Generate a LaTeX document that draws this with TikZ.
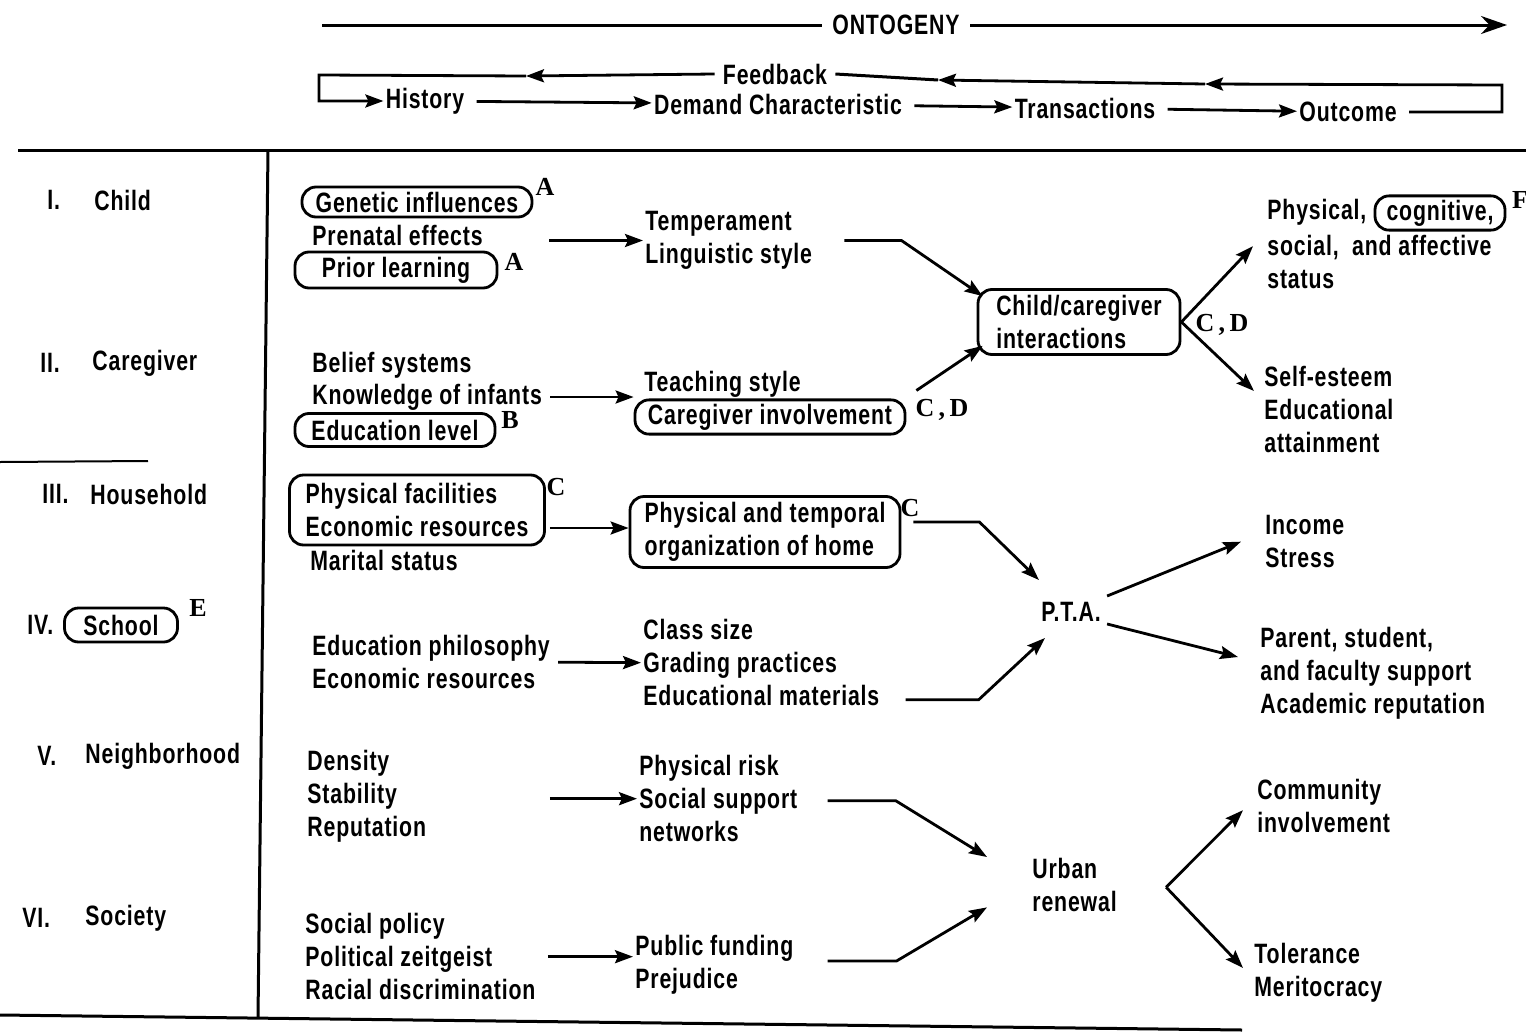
\documentclass[tikz,border=0pt]{standalone}
\usepackage{fontspec}
\setmainfont{Liberation Sans}[UprightFont={* Bold}, FakeStretch=0.76, LetterSpace=3]
\newfontfamily\letterfont{Liberation Serif}
\usetikzlibrary{arrows.meta, positioning, calc}

\newcommand{\dfont}{\fontsize{14}{16.5}\selectfont}
\newcommand{\lfont}{\letterfont\bfseries\fontsize{13}{15}\selectfont}

\begin{document}
\begin{tikzpicture}[
  x=0.5pt, y=-0.5pt,
  txt/.style={font=\dfont, inner sep=1pt, anchor=west, align=left},
  grp/.style={txt, anchor=north west},
  bx/.style={font=\dfont, draw, line width=1.4pt, rounded corners=7pt, inner sep=2pt, align=left},
  lt/.style={font=\lfont, inner sep=0pt},
  arr/.style={-{Stealth[length=9pt, width=6.5pt, inset=1.5pt]}, line width=1.4pt},
  rule/.style={line width=1.5pt}
]
\useasboundingbox (0,0) rectangle (1526,1033);

% frame lines
\draw[rule] (18,150) -- (1526,150);
\draw[rule] (268,150) -- (258,1018);
\draw[rule] (0,1015) -- (1242,1030);
\draw[line width=1pt] (0,462) -- (148,461);

% ontogeny
\node[txt, anchor=center, inner xsep=5pt] (ont) at (896,25) {ONTOGENY};
\coordinate (ontL) at (322,25);
\coordinate (ontR) at (1507,25);
\draw[rule] (ontL) -- (ont.west);
\draw[rule, -{Stealth[length=13pt, width=9pt]}] (ont.east) -- (ontR);

% sequence and feedback
\node[txt, anchor=center] (hist) at (425,101) {History};
\node[txt, anchor=center] (dem) at (778,104) {Demand Characteristic};
\node[txt, anchor=center] (tra) at (1085,108) {Transactions};
\node[txt, anchor=center] (outc) at (1348,112) {Outcome};
\draw[arr, shorten <=5pt] (hist) -- (dem);
\draw[arr, shorten <=5pt] (dem) -- (tra);
\draw[arr, shorten <=5pt] (tra) -- (outc);

\node[txt, anchor=center, inner xsep=4pt] (fb) at (775,74) {Feedback};
\coordinate (fbR) at (1502,85);
\coordinate (fb1) at (1205,84);
\coordinate (fb2) at (938,80);
\coordinate (fb3) at (526,76);
\coordinate (fbL) at (319,75);
\draw[arr, shorten <=5pt] (outc.east) -- (outc.east -| fbR) -- (fbR) -- (fb1);
\draw[arr] (fb1) -- (fb2);
\draw[rule] (fb2) -- (fb.east);
\draw[arr] (fb.west) -- (fb3);
\draw[arr] (fb3) -- (fbL) -- (fbL |- hist) -- (hist.west);

% levels
\node[txt] (r1) at (45,200) {I.};
\node[txt] (lchild) at (92,200) {Child};
\node[txt] (r2) at (38,363) {II.};
\node[txt] (lcare) at (90,363) {Caregiver};
\node[txt] (r3) at (40,494) {III.};
\node[txt] (lhouse) at (88,494) {Household};
\node[txt] (r4) at (25,625) {IV.};
\node[bx, minimum width=56.5pt, minimum height=17pt] (lschool) at (121,625) {School};
\node[lt] (lschoolE) at (198,608) {E};
\node[txt] (r5) at (35,756) {V.};
\node[txt] (lneigh) at (83,756) {Neighborhood};
\node[txt] (r6) at (20,918) {VI.};
\node[txt] (lsoc) at (83,918) {Society};

% history
\node[bx, minimum width=115pt, minimum height=15pt] (gen) at (417,202) {Genetic influences};
\node[lt] (genA) at (545,187) {A};
\node[txt] (pre) at (310,235) {Prenatal effects};
\node[bx, minimum width=101pt, minimum height=18pt] (pri) at (396,270) {Prior learning};
\node[lt] (priA) at (514,262) {A};
\node[txt] (bel) at (310,365) {Belief systems};
\node[txt] (kno) at (310,397) {Knowledge of infants};
\node[bx, minimum width=100pt, minimum height=16.5pt] (edu) at (395,430) {Education level};
\node[lt] (eduB) at (510,420) {B};
\node[bx, minimum width=127.5pt, minimum height=35pt] (hh) at (417,510) {Physical facilities\\Economic resources};
\node[lt] (hhC) at (556,487) {C};
\node[txt] (mar) at (308,560) {Marital status};
\node[grp] (sch) at (310,633) {Education philosophy\\Economic resources};
\node[grp] (nbh) at (305,748) {Density\\Stability\\Reputation};
\node[grp] (soc) at (303,911) {Social policy\\Political zeitgeist\\Racial discrimination};

% demand characteristics
\node[grp] (tmp) at (643,209) {Temperament\\Linguistic style};
\node[txt] (tea) at (642,384) {Teaching style};
\node[bx, minimum width=135pt, minimum height=16.5pt] (inv) at (770,417) {Caregiver involvement};
\node[lt] (invCD) at (942,410) {C\,,\,D};
\node[bx, minimum width=135pt, minimum height=35.5pt] (org) at (765,532) {Physical and temporal\\organization of home};
\node[lt] (orgC) at (910,508) {C};
\node[grp] (cls) at (641,617) {Class size\\Grading practices\\Educational materials};
\node[grp] (phr) at (637,753) {Physical risk\\Social support\\networks};
\node[grp] (pub) at (633,933) {Public funding\\Prejudice};

% transactions
\node[bx, minimum width=101pt, minimum height=32.5pt] (cci) at (1079,322) {Child/caregiver\\interactions};
\node[lt] (cciCD) at (1222,325) {C\,,\,D};
\node[txt, anchor=center] (pta) at (1071,612) {P.T.A.};
\node[grp] (urb) at (1030,856) {Urban\\renewal};

% outcomes
\node[txt] (phys) at (1265,212) {Physical,};
\node[bx, minimum width=65pt, minimum height=15pt] (cog) at (1440,213) {cognitive,};
\node[lt] (cogF) at (1520,200) {F};
\node[grp] (aff) at (1265,233) {social,~~and affective\\status};
\node[grp] (se) at (1262,364) {Self-esteem\\Educational\\attainment};
\node[grp] (inc) at (1263,513) {Income\\Stress};
\node[grp] (par) at (1258,625) {Parent, student,\\and faculty support\\Academic reputation};
\node[grp] (com) at (1255,777) {Community\\involvement};
\node[grp] (tol) at (1252,941) {Tolerance\\Meritocracy};

% history -> demand
\draw[arr] ($(gen.east |- tmp.west)+(16,0)$) -- (tmp.west);
\draw[arr] ($(kno.east)+(6,0)$) -- (kno.east -| inv.west);
\draw[arr] ($(hh.east)+(4,18)$) -- ($(hh.east -| org.west)+(0,18)$);
\draw[arr] ($(sch.east)+(6,0)$) -- (cls.west);
\draw[arr] ($(soc.east |- phr.west)+(12,0)$) -- (phr.west);
\draw[arr] ($(soc.east)+(10,0)$) -- (soc.east -| pub.west);

% demand -> transactions
\draw[arr] ($(tmp.east)+(30,0)$) -- ++(57,0) -- ($(cci.north west)+(6,8)$);
\draw[arr] ($(inv.north east)+(10,-8)$) -- ($(cci.south west)+(6,-10)$);
\draw[arr] ($(org.east)+(12,-10)$) -- ++(66,0) -- ($(pta.north west)+(0,-20)$);
\draw[arr] ($(cls.east)+(24,37)$) -- ++(73,0) -- ($(pta.south west)+(6,14)$);
\draw[arr] ($(phr.east)+(28,2)$) -- ++(68,0) -- ($(urb.north west)+(-43,1)$);
\draw[arr] ($(pub.east)+(32,-4)$) -- ++(69,0) -- ($(urb.south west)+(-43,-7)$);

% transactions -> outcomes
\draw[arr] (cci.east) -- ($(aff.west)+(-12,-16)$);
\draw[arr] (cci.east) -- ($(se.north west)+(-8,27)$);
\draw[arr] ($(pta.east)+(4,-16)$) -- ($(inc.west)+(-22,0)$);
\draw[arr] ($(pta.east)+(4,12)$) -- ($(par.north west)+(-20,32)$);
\coordinate (uvx) at ($(urb.east)+(47,2)$);
\draw[arr] (uvx) -- ($(com.west)+(-12,4)$);
\draw[arr] (uvx) -- ($(tol.west)+(-9,-5)$);
\end{tikzpicture}
\end{document}
